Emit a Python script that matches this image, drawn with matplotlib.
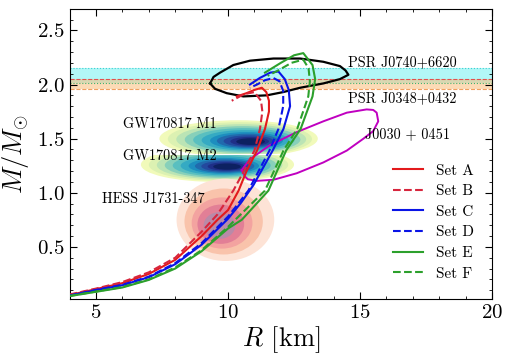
import numpy as np
import matplotlib.pyplot as plt
from matplotlib.patches import Ellipse, Rectangle

plt.rcParams['font.family'] = 'serif'
plt.rcParams['font.serif'] = ['cmr10']
plt.rcParams['mathtext.fontset'] = 'cm'
plt.rcParams['axes.formatter.use_mathtext'] = True

################################
# M-R curves

R_A = [4.0, 5.0, 6.0, 7.0, 8.0, 9.0, 9.6, 10.0, 10.4, 10.7, 11.1, 11.4, 11.55, 11.55, 11.45, 11.28, 11.0, 10.7, 10.33]
M_A = [0.055, 0.11, 0.165, 0.25, 0.38, 0.60, 0.75, 0.84, 1.02, 1.2, 1.39, 1.59, 1.75, 1.85, 1.93, 1.97, 1.95, 1.92, 1.89]

R_B = [4.0, 5.0, 6.0, 7.0, 8.0, 9.0, 9.6, 10.2, 10.6, 11.0, 11.21, 11.3, 11.25, 11.0, 10.6, 10.14]
M_B = [0.06, 0.115, 0.175, 0.265, 0.40, 0.64, 0.80, 1.02, 1.2, 1.39, 1.59, 1.75, 1.85, 1.93, 1.91, 1.85]

R_C = [4.0, 5.0, 6.0, 7.0, 8.0, 9.0, 10.0, 10.5, 10.96, 11.69, 12.1, 12.35, 12.3, 12.15, 11.91, 11.6, 11.2, 10.83]
M_C = [0.05, 0.10, 0.146, 0.22, 0.34, 0.52, 0.76, 0.91, 1.07, 1.39, 1.59, 1.80, 1.95, 2.05, 2.12, 2.11, 2.06, 2.0]

R_D = [4.0, 5.0, 6.0, 7.0, 8.0, 9.0, 10.0, 10.77, 11.57, 11.91, 12.09, 12.09, 11.95, 11.72, 11.4, 11.1, 10.83]
M_D = [0.05, 0.102, 0.15, 0.225, 0.35, 0.535, 0.78, 1.02, 1.39, 1.59, 1.80, 1.94, 2.03, 2.06, 2.04, 2.0, 1.97]

R_E = [4.0, 5.0, 6.0, 7.0, 8.0, 9.0, 10.0, 10.52, 11.53, 12.2, 12.75, 13.2, 13.3, 13.2, 12.85, 12.5, 12.0, 11.4]
M_E = [0.045, 0.085, 0.125, 0.195, 0.30, 0.46, 0.67, 0.75, 1.02, 1.39, 1.59, 1.89, 2.05, 2.18, 2.29, 2.27, 2.2, 2.11]

R_F = [4.0, 5.0, 6.0, 7.0, 8.0, 9.0, 10.0, 11.4, 12.1, 12.62, 13.04, 13.1, 13.05, 12.85, 12.4, 11.9, 11.5]
M_F = [0.047, 0.088, 0.13, 0.20, 0.31, 0.47, 0.685, 1.02, 1.39, 1.59, 1.89, 2.03, 2.15, 2.23, 2.2, 2.13, 2.08]

sets = ['Set A', 'Set B', 'Set C', 'Set D', 'Set E', 'Set F']
set_R = [R_A, R_B, R_C, R_D, R_E, R_F]
set_M = [M_A, M_B, M_C, M_D, M_E, M_F]
set_col = ['#e31a1c', '#d7263d', '#0a14e6', '#0a14e6', '#2ca02c', '#2ca02c']
set_ls = ['-', '--', '-', '--', '-', '--']

# NICER contours
j0740_R = [9.32, 9.45, 9.70, 10.20, 10.83, 11.72, 12.73, 13.61, 14.24, 14.45, 14.56, 14.24, 13.61, 12.73, 12.09, 11.47, 10.58, 9.95, 9.51, 9.32]
j0740_M = [2.01, 2.07, 2.11, 2.18, 2.22, 2.24, 2.24, 2.21, 2.17, 2.13, 2.09, 2.05, 2.01, 1.97, 1.93, 1.90, 1.89, 1.92, 1.96, 2.01]

j0030_R = [10.52, 10.83, 11.59, 12.6, 13.61, 14.5, 15.25, 15.5, 15.63, 15.69, 15.5, 15.13, 14.5, 13.61, 12.6, 11.72, 11.09, 10.75, 10.64, 10.52]
j0030_M = [1.21, 1.31, 1.44, 1.56, 1.66, 1.74, 1.77, 1.765, 1.74, 1.66, 1.57, 1.50, 1.39, 1.28, 1.18, 1.12, 1.11, 1.125, 1.15, 1.21]

# mass bands
band_j0740 = (2.01, 2.15)
band_j0348 = (1.96, 2.05)

# blobs: outer (R, M, halfwidth R, halfwidth M), inner centre
gw_m1_outer = (10.4, 1.50, 3.0, 0.17)
gw_m1_inner = (10.9, 1.47)
gw_m2_outer = (9.6, 1.26, 2.9, 0.16)
gw_m2_inner = (10.0, 1.24)
gw_split = 1.355
hess_outer = (9.9, 0.75, 1.85, 0.38)
hess_inner = (9.6, 0.68)

labels = ['PSR J0740+6620', 'PSR J0348+0432', 'J0030 + 0451', 'GW170817 M1', 'GW170817 M2', 'HESS J1731-347']
label_R = [14.53, 14.53, 15.2, 6.01, 6.01, 5.22]
label_M = [2.207, 1.87, 1.536, 1.63, 1.335, 0.94]

###################################################
#Graphing

fig = plt.figure(figsize=(5.12, 3.64), dpi=100)
ax = fig.add_axes([0.136, 0.179, 0.825, 0.797])

ax.axhspan(*band_j0740, color='#7ff2f2', alpha=0.6, lw=0, zorder=1)
ax.axhspan(*band_j0348, color='#fbbf7a', alpha=0.55, lw=0, zorder=1)
ax.axhline(band_j0740[1], color='#40d0d0', ls=':', lw=0.8, zorder=1)
ax.axhline(band_j0740[0], color='#3cb371', ls=':', lw=0.8, zorder=1)
ax.axhline(band_j0348[1], color='#e05050', ls='--', lw=0.8, zorder=1)
ax.axhline(band_j0348[0], color='#f0a060', ls='--', lw=0.8, zorder=1)

cmap = plt.get_cmap('YlGnBu')

def blob(outer, inner, cols, fracs, clip=None):
    for i, f in enumerate(fracs):
        cx = outer[0] + f*(inner[0]-outer[0])
        cy = outer[1] + f*(inner[1]-outer[1])
        s = 1 - 0.9*f
        e = Ellipse((cx, cy), 2*outer[2]*s, 2*outer[3]*s, lw=0, fc=cols[i], zorder=2)
        ax.add_patch(e)
        if clip is not None:
            e.set_clip_path(clip)

gw_fracs = [0.0, 0.1, 0.2, 0.3, 0.4, 0.5, 0.6, 0.68, 0.76, 0.84, 0.91]
gw_cols = [cmap(v) for v in [0.1, 0.18, 0.27, 0.36, 0.45, 0.54, 0.63, 0.72, 0.81, 0.9, 0.98]]
clip1 = Rectangle((0, gw_split + 0.005), 30, 3, transform=ax.transData)
clip2 = Rectangle((0, 0), 30, gw_split - 0.005, transform=ax.transData)
blob(gw_m1_outer, gw_m1_inner, gw_cols, gw_fracs, clip1)
blob(gw_m2_outer, gw_m2_inner, gw_cols, gw_fracs, clip2)

hess_fracs = [0.0, 0.22, 0.42, 0.58, 0.75]
hess_cols = ['#fde3d6', '#f9c3ab', '#f3a3a0', '#e27f96', '#b98aa8']
blob(hess_outer, hess_inner, hess_cols, hess_fracs)

ax.plot(j0740_R, j0740_M, color='k', lw=1.6, zorder=4)
ax.plot(j0030_R, j0030_M, color='#c000c0', lw=1.4, zorder=4)

for i in range(len(sets)):
    ax.plot(set_R[i], set_M[i], color=set_col[i], ls=set_ls[i], lw=1.5, label=sets[i], zorder=5)

for i in range(len(labels)):
    ax.text(label_R[i], label_M[i], labels[i], fontsize=10.3, va='center', ha='left', zorder=6)

ax.set_xlim(4, 20)
ax.set_ylim(0.02, 2.7)
ax.set_xticks([5, 10, 15, 20])
ax.set_yticks([0.5, 1.0, 1.5, 2.0, 2.5])
ax.set_xticks(np.arange(4, 20.1, 1), minor=True)
ax.set_yticks(np.arange(0.1, 2.7, 0.1), minor=True)
ax.tick_params(which='both', direction='in', top=True, right=True, labelsize=15)
ax.tick_params(which='major', length=5)
ax.tick_params(which='minor', length=2.5)
ax.set_xlabel(r'$R$ [km]', fontsize=19, labelpad=2)
ax.set_ylabel(r'$M/M_{\odot}$', fontsize=19, labelpad=4)
ax.legend(loc='lower right', frameon=False, fontsize=11, handlelength=2.0, labelspacing=0.45, borderaxespad=0.8)

fig.savefig('out.png', dpi=100)
